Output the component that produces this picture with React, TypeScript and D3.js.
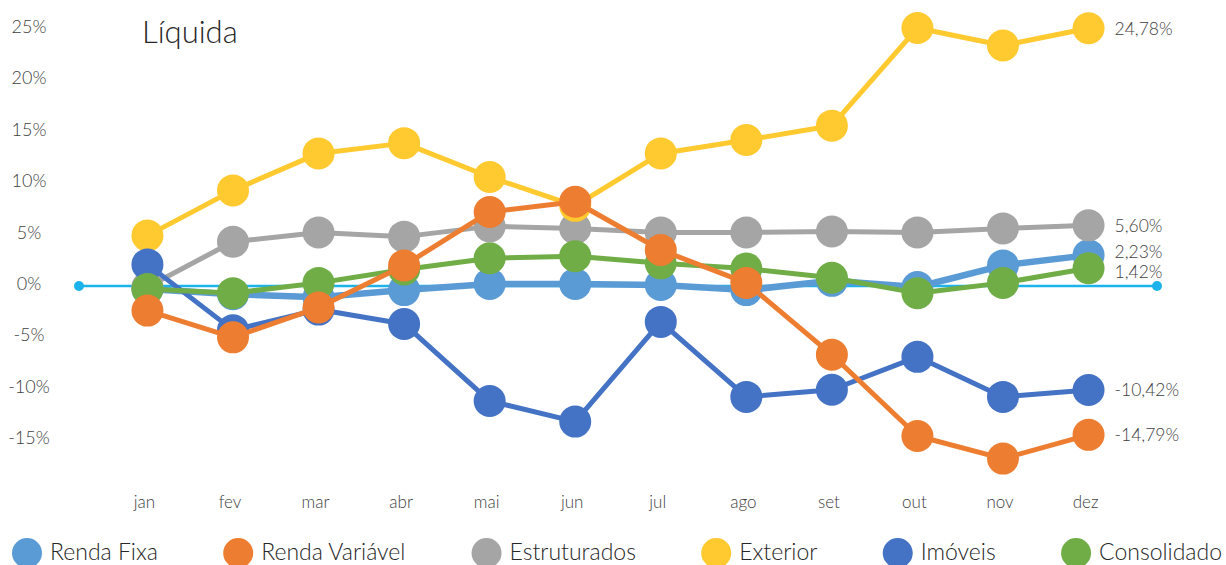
import React from "react";
import * as d3 from "d3";

const months = ["jan", "fev", "mar", "abr", "mai", "jun", "jul", "ago", "set", "out", "nov", "dez"];
const yTicks = [25, 20, 15, 10, 5, 0, -5, -10, -15];

const rendaFixa = [-0.6, -1.1, -1.4, -0.7, -0.1, -0.1, -0.2, -0.7, 0.2, -0.4, 1.7, 2.7];
const rendaVariavel = [-2.7, -5.3, -2.4, 1.7, 6.9, 7.9, 3.2, 0.0, -7.0, -14.9, -17.1, -14.79];
const estruturados = [-0.4, 4.0, 4.9, 4.5, 5.5, 5.3, 4.9, 4.9, 5.0, 4.9, 5.3, 5.6];
const exterior = [4.6, 9.0, 12.6, 13.6, 10.3, 7.5, 12.6, 13.9, 15.3, 24.8, 23.1, 24.78];
const imoveis = [1.8, -4.6, -2.6, -4.0, -11.5, -13.5, -3.8, -11.1, -10.4, -7.2, -11.1, -10.42];
const consolidado = [-0.6, -1.0, 0.0, 1.3, 2.4, 2.6, 1.9, 1.4, 0.5, -1.0, 0.0, 1.42];

const seriesNames = ["Renda Fixa", "Renda Variável", "Estruturados", "Exterior", "Imóveis", "Consolidado"];
const endLabels = ["2,23%", "-14,79%", "5,60%", "24,78%", "-10,42%", "1,42%"];
const refLineValue = -0.3;

const colors = ["#5B9BD5", "#ED7D31", "#A5A5A5", "#FFC930", "#4472C4", "#70AD47"];
const lineWidths = [6.5, 5, 5, 5, 5, 5];
const drawOrder = [0, 2, 3, 4, 5, 1];

const W = 1226;
const H = 565;
const FONT = "Lato, 'Open Sans', sans-serif";

function measure(text: string, font: string): number {
  const c = document.createElement("canvas");
  const ctx = c.getContext("2d");
  if (!ctx) return text.length * 10;
  ctx.font = font;
  return ctx.measureText(text).width;
}

export default function App() {
  const values = [rendaFixa, rendaVariavel, estruturados, exterior, imoveis, consolidado];

  const x = d3.scalePoint<string>().domain(months).range([79, 1157]).padding(0.8);
  const y = d3.scaleLinear().domain([-15, 25]).range([437, 26]);

  const line = d3
    .line<number>()
    .x((_, i) => x(months[i]) as number)
    .y((d) => y(d));

  // end labels with simple collision separation
  const lastX = x(months[months.length - 1]) as number;
  const labelItems = values
    .map((v, i) => ({ i, y: y(v[v.length - 1]) }))
    .sort((a, b) => a.y - b.y);
  const minGap = 19.5;
  for (let k = 1; k < labelItems.length; k++) {
    const prev = labelItems[k - 1];
    const cur = labelItems[k];
    if (cur.y - prev.y < minGap) {
      const mid = (cur.y + prev.y) / 2;
      prev.y = mid - minGap / 2;
      cur.y = mid + minGap / 2;
    }
  }

  // legend layout
  const legendFontSize = 23;
  const legendFont = `300 ${legendFontSize}px Lato`;
  const r = 15;
  const textOffset = 23;
  const widths = seriesNames.map((n) => textOffset + measure(n, legendFont) + r);
  const legendStart = 12;
  const legendEnd = 1222;
  const totalW = d3.sum(widths);
  const gap = (legendEnd - legendStart - totalW) / (seriesNames.length - 1);
  const legendX: number[] = [];
  let cx = legendStart;
  widths.forEach((w) => {
    legendX.push(cx + r);
    cx += w + gap;
  });
  const legendY = 551;

  const x0 = x.range()[0];
  const x1 = x.range()[1];

  return (
    <svg
      width={W}
      height={H}
      style={{ position: "absolute", left: 0, top: 0, background: "#fff" }}
      fontFamily={FONT}
    >
      <rect x={0} y={0} width={W} height={H} fill="#fff" />
      <text x={142} y={31} fontSize={31} fontWeight={300} fill="#262626" dominantBaseline="central">
        Líquida
      </text>

      {yTicks.map((t) => (
        <text
          key={t}
          x={29}
          y={y(t)}
          fontSize={18}
          fontWeight={300}
          fill="#404040"
          textAnchor="middle"
          dominantBaseline="central"
        >
          {`${t}%`}
        </text>
      ))}

      {months.map((m) => (
        <text
          key={m}
          x={(x(m) as number) - 3}
          y={501}
          fontSize={17}
          fontWeight={300}
          fill="#404040"
          textAnchor="middle"
          dominantBaseline="central"
        >
          {m}
        </text>
      ))}

      <line x1={x0} x2={x1} y1={y(refLineValue)} y2={y(refLineValue)} stroke="#1CB3EC" strokeWidth={2.5} />
      <circle cx={x0} cy={y(refLineValue)} r={5} fill="#1CB3EC" />
      <circle cx={x1} cy={y(refLineValue)} r={5} fill="#1CB3EC" />

      {drawOrder.map((si) => (
        <g key={si}>
          <path
            d={line(values[si]) || ""}
            fill="none"
            stroke={colors[si]}
            strokeWidth={lineWidths[si]}
            strokeLinejoin="round"
          />
          {values[si].map((v, i) => (
            <circle key={i} cx={x(months[i]) as number} cy={y(v)} r={16} fill={colors[si]} />
          ))}
        </g>
      ))}

      {labelItems.map((it) => (
        <text
          key={it.i}
          x={lastX + 26}
          y={it.y}
          fontSize={17.5}
          fontWeight={300}
          fill="#404040"
          dominantBaseline="central"
        >
          {endLabels[it.i]}
        </text>
      ))}

      {seriesNames.map((n, i) => (
        <g key={n}>
          <circle cx={legendX[i]} cy={legendY + 2} r={r} fill={colors[i]} />
          <text
            x={legendX[i] + textOffset}
            y={legendY}
            fontSize={legendFontSize}
            fontWeight={300}
            fill="#262626"
            dominantBaseline="central"
          >
            {n}
          </text>
        </g>
      ))}
    </svg>
  );
}
